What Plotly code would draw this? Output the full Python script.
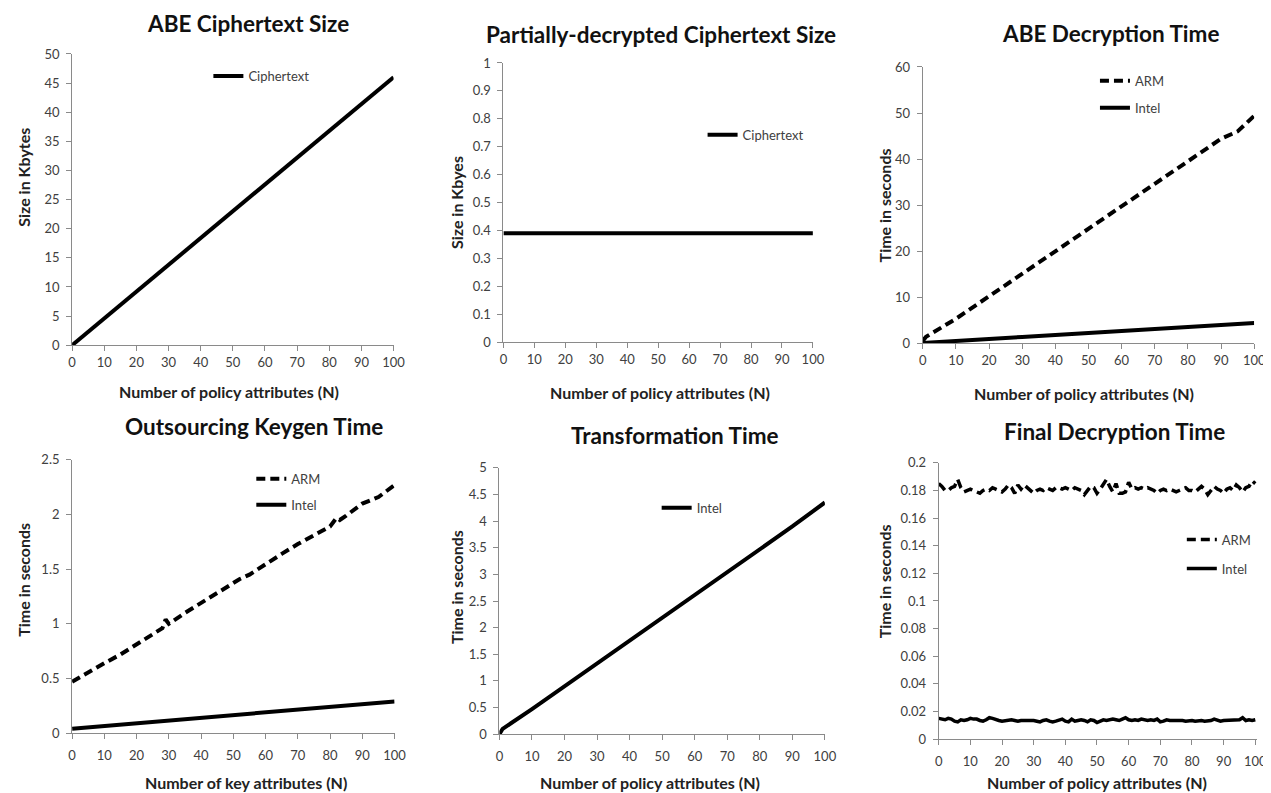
import plotly.graph_objects as go

# ---------------- data ----------------
N_STEP = [0, 10, 20, 30, 40, 50, 60, 70, 80, 90, 100]

ct_size = [0, 4.6, 9.2, 13.8, 18.4, 23.0, 27.6, 32.2, 36.8, 41.4, 46.0]
pct_size = [0.39, 0.39, 0.39, 0.39, 0.39, 0.39, 0.39, 0.39, 0.39, 0.39, 0.39]

dec_x = [0, 1, 10, 20, 30, 40, 50, 60, 70, 80, 90, 95, 100]
dec_arm = [0.5, 1.4, 5.3, 10.2, 15.0, 19.9, 24.7, 29.6, 34.5, 39.4, 44.4, 46.0, 49.4]
dec_intel = [0.05, 0.1, 0.48, 0.92, 1.35, 1.78, 2.2, 2.64, 3.08, 3.5, 3.95, 4.15, 4.4]

kg_x = [0, 5, 10, 15, 20, 25, 28, 29, 30, 35, 40, 45, 50, 52, 55, 60, 65, 70, 75, 80, 82, 83, 85, 90, 95, 100]
kg_arm = [0.47, 0.56, 0.64, 0.72, 0.81, 0.9, 0.96, 1.04, 1.0, 1.1, 1.19, 1.28, 1.38, 1.41, 1.45, 1.55,
          1.64, 1.73, 1.81, 1.89, 1.97, 1.95, 1.99, 2.1, 2.16, 2.27]
kg_intel_x = [0, 10, 20, 30, 40, 50, 60, 70, 80, 90, 100]
kg_intel = [0.04, 0.065, 0.09, 0.115, 0.14, 0.165, 0.19, 0.215, 0.24, 0.265, 0.29]

tr_x = [0, 1, 10, 20, 30, 40, 50, 60, 70, 80, 90, 100]
tr_intel = [0.0, 0.1, 0.47, 0.9, 1.32, 1.74, 2.17, 2.6, 3.03, 3.46, 3.9, 4.35]

fd_arm = [0.185, 0.183, 0.180, 0.180, 0.182, 0.183, 0.188, 0.182, 0.179, 0.180,
          0.181, 0.180, 0.179, 0.178, 0.180, 0.181, 0.180, 0.182, 0.181, 0.180,
          0.179, 0.181, 0.184, 0.182, 0.178, 0.184, 0.181, 0.184, 0.182, 0.180,
          0.178, 0.180, 0.181, 0.180, 0.182, 0.181, 0.180, 0.182, 0.182, 0.181,
          0.182, 0.181, 0.180, 0.182, 0.181, 0.180, 0.177, 0.180, 0.183, 0.182,
          0.178, 0.181, 0.184, 0.188, 0.183, 0.179, 0.185, 0.178, 0.178, 0.179,
          0.186, 0.181, 0.182, 0.181, 0.182, 0.181, 0.182, 0.181, 0.180, 0.178,
          0.180, 0.181, 0.180, 0.181, 0.180, 0.179, 0.180, 0.181, 0.182, 0.180,
          0.180, 0.179, 0.181, 0.183, 0.181, 0.177, 0.180, 0.183, 0.181, 0.180,
          0.178, 0.181, 0.182, 0.180, 0.184, 0.182, 0.179, 0.182, 0.183, 0.187,
          0.185]
fd_intel = [0.015, 0.0145, 0.014, 0.015, 0.0145, 0.013, 0.0125, 0.014, 0.0135, 0.014,
            0.015, 0.0145, 0.0145, 0.0135, 0.013, 0.014, 0.0155, 0.015, 0.014, 0.0135,
            0.013, 0.0135, 0.0135, 0.014, 0.0135, 0.013, 0.0135, 0.0135, 0.014, 0.0135,
            0.0135, 0.013, 0.0125, 0.0135, 0.014, 0.013, 0.0125, 0.013, 0.014, 0.0145,
            0.013, 0.0125, 0.0145, 0.013, 0.0135, 0.014, 0.0135, 0.0125, 0.014, 0.0135,
            0.012, 0.013, 0.014, 0.0135, 0.014, 0.0145, 0.014, 0.0135, 0.0145, 0.0155,
            0.014, 0.0135, 0.014, 0.0135, 0.0145, 0.014, 0.0135, 0.014, 0.0135, 0.0145,
            0.0125, 0.013, 0.014, 0.0135, 0.0135, 0.014, 0.0135, 0.0135, 0.013, 0.0135,
            0.0135, 0.013, 0.0135, 0.0135, 0.013, 0.013, 0.0135, 0.0145, 0.0135, 0.013,
            0.0135, 0.0135, 0.0135, 0.014, 0.0135, 0.014, 0.0155, 0.0135, 0.014, 0.0135,
            0.014]
fd_x = list(range(len(fd_arm)))
fd_xi = list(range(len(fd_intel)))

TITLES = ["ABE Ciphertext Size", "Partially-decrypted Ciphertext Size", "ABE Decryption Time",
          "Outsourcing Keygen Time", "Transformation Time", "Final Decryption Time"]
XTITLES = ["Number of policy attributes (N)", "Number of policy attributes (N)",
           "Number of policy attributes (N)", "Number of key attributes (N)",
           "Number of policy attributes (N)", "Number of policy attributes (N)"]
YTITLES = ["Size in Kbytes", "Size in Kbyes", "Time in seconds",
           "Time in seconds", "Time in seconds", "Time in seconds"]

# ---------------- layout helpers ----------------
W, H = 1271, 793
FONT = "Lato, 'Open Sans', sans-serif"
AXC = "#8a8a8a"
TXT = "#404040"

# observed page transform compensation (target pixel -> layout pixel)
SX, OX = 0.989, 10.8
SY, OY = 0.9825, 14.9


def px(x):
    return ((x - OX) / SX) / W


def py(y):
    return 1 - ((y - OY) / SY) / H


# plot-area boxes in target pixels: (left, right, top, bottom)
boxes = [(71, 393, 53, 345), (503, 813, 62, 342), (923, 1255, 66, 343),
         (71, 394, 460, 734), (499, 825, 468, 735), (939, 1258, 463, 740)]
yranges = [[0, 50], [0, 1], [0, 60], [0, 2.5], [0, 5], [0, 0.2]]
ydtick = [5, 0.1, 10, 0.5, 0.5, 0.02]
xranges = [[0, 100], [0, 100], [0, 100], [0, 100], [0, 100], [0, 100.6]]
xstandoff = [0, 0, 0, 5, 5, 5]

fig = go.Figure()

dash = "9px,5px"


def add(x, y, i, name, legend, dashed=False, width=4):
    fig.add_trace(go.Scatter(
        x=x, y=y, mode="lines", name=name,
        line=dict(color="black", width=width, dash=dash if dashed else "solid"),
        xaxis="x" if i == 1 else f"x{i}", yaxis="y" if i == 1 else f"y{i}",
        legend=legend, showlegend=True))


add(N_STEP, ct_size, 1, "Ciphertext", "legend")
add(N_STEP, pct_size, 2, "Ciphertext", "legend2")
add(dec_x, dec_arm, 3, "ARM", "legend3", dashed=True)
add(dec_x, dec_intel, 3, "Intel", "legend4")
add(kg_x, kg_arm, 4, "ARM", "legend5", dashed=True)
add(kg_intel_x, kg_intel, 4, "Intel", "legend6")
add(tr_x, tr_intel, 5, "Intel", "legend7")
add(fd_x, fd_arm, 6, "ARM", "legend8", dashed=True, width=3.5)
add(fd_xi, fd_intel, 6, "Intel", "legend9", width=3.5)

layout = dict(width=W, height=H, margin=dict(l=0, r=0, t=0, b=0),
              paper_bgcolor="white", plot_bgcolor="white",
              font=dict(family=FONT, color=TXT, size=13))

for i, (l, r, t, b) in enumerate(boxes, start=1):
    xa = "xaxis" if i == 1 else f"xaxis{i}"
    ya = "yaxis" if i == 1 else f"yaxis{i}"
    layout[xa] = dict(domain=[px(l), px(r)], range=xranges[i - 1], tick0=0, dtick=10,
                      anchor="y" if i == 1 else f"y{i}",
                      showline=True, linecolor=AXC, linewidth=1, ticks="outside",
                      ticklen=5, tickcolor=AXC, showgrid=False, zeroline=False,
                      ticklabelstandoff=xstandoff[i - 1],
                      tickfont=dict(size=13, color=TXT, family=FONT), fixedrange=True)
    layout[ya] = dict(domain=[py(b), py(t)], range=yranges[i - 1], tick0=0, dtick=ydtick[i - 1],
                      anchor="x" if i == 1 else f"x{i}",
                      showline=True, linecolor=AXC, linewidth=1, ticks="outside",
                      ticklen=5, tickcolor=AXC, showgrid=False, zeroline=False,
                      ticklabelstandoff=4,
                      tickfont=dict(size=13, color=TXT, family=FONT), fixedrange=True)

# legends: (line start x, center y) in target pixels
leg_pos = [(213, 75), (708, 134), (1101, 80), (1101, 107), (256, 479), (256, 505),
           (662, 508), (1188, 540), (1188, 569)]
for k, (lx, ly) in enumerate(leg_pos, start=1):
    name = "legend" if k == 1 else f"legend{k}"
    layout[name] = dict(x=px(lx - 5.5), y=py(ly), xanchor="left", yanchor="middle",
                        bgcolor="rgba(0,0,0,0)", borderwidth=0,
                        font=dict(size=13, color=TXT, family=FONT),
                        itemwidth=30, tracegroupgap=0)

ann = []
title_pos = [(247, 22), (661, 33), (1111, 32), (253, 427), (675, 436), (1115, 432)]
for (tx, ty), txt in zip(title_pos, TITLES):
    ann.append(dict(text=f"<b>{txt}</b>", x=px(tx), y=py(ty), xref="paper", yref="paper",
                    xanchor="center", yanchor="middle", showarrow=False,
                    font=dict(size=22.5, color="#111", family=FONT)))
xt_pos = [(228, 391), (660, 392), (1085, 393), (245, 783), (650, 783), (1098, 783)]
for (tx, ty), txt in zip(xt_pos, XTITLES):
    ann.append(dict(text=f"<b>{txt}</b>", x=px(tx), y=py(ty), xref="paper", yref="paper",
                    xanchor="center", yanchor="middle", showarrow=False,
                    font=dict(size=16, color="#222", family=FONT)))
yt_pos = [(22, 177), (456, 202), (885, 205), (22, 580), (456, 587), (885, 582)]
for (tx, ty), txt in zip(yt_pos, YTITLES):
    ann.append(dict(text=f"<b>{txt}</b>", x=px(tx), y=py(ty), xref="paper", yref="paper",
                    xanchor="center", yanchor="middle", showarrow=False, textangle=-90,
                    font=dict(size=16, color="#222", family=FONT)))
layout["annotations"] = ann

fig.update_layout(**layout)
fig.write_html("out.html")
